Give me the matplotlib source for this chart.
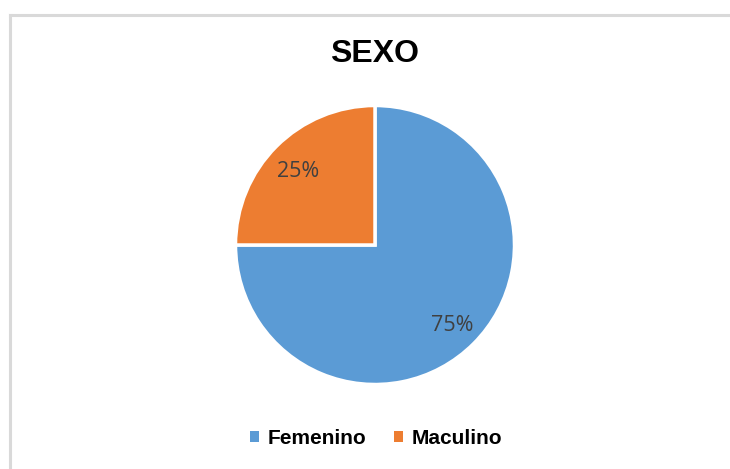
import matplotlib
matplotlib.use('Agg')
import matplotlib.pyplot as plt
from matplotlib.lines import Line2D
from matplotlib.patches import Patch

# Chart data:
labels = ['Femenino', 'Maculino']
values = [75, 25]
colors = ['#5B9BD5', '#ED7D31']

W, H = 730, 469
fig = plt.figure(figsize=(W / 100, H / 100), dpi=100)
fig.patch.set_facecolor('white')

# Light gray chart-area frame (top and left edges visible):
frame_color = '#D9D9D9'
fig.add_artist(Line2D([10 / W, 10 / W], [0, 1 - 15 / H], color=frame_color, linewidth=2.2, transform=fig.transFigure))
fig.add_artist(Line2D([10 / W, 1], [1 - 15 / H, 1 - 15 / H], color=frame_color, linewidth=2.2, transform=fig.transFigure))

# Pie axes centered at (375, 245) px with radius ~139 px:
cx, cy, r = 375, 245, 139.5
ax = fig.add_axes([(cx - r) / W, (H - cy - r) / H, 2 * r / W, 2 * r / H])
wedges, texts, autotexts = ax.pie(
    values, colors=colors, startangle=90, counterclock=False,
    autopct='%1.0f%%', pctdistance=0.78,
    wedgeprops=dict(edgecolor='white', linewidth=2.5),
    textprops=dict(color='#404040', fontsize=15.5, family=['Open Sans', 'DejaVu Sans']))
for t in autotexts:
    x, y = t.get_position()
    t.set_position((x, y - 0.025))
ax.set_xlim(-1, 1)
ax.set_ylim(-1, 1)
ax.set_aspect('equal')
ax.axis('off')

# Title:
fig.text(cx / W, 1 - 54 / H, 'SEXO', ha='center', va='center', fontsize=23,
         fontweight='bold', family='Liberation Sans', color='black')

# Legend:
handles = [Patch(facecolor=c, edgecolor='none') for c in colors]
legend = fig.legend(handles, labels, loc='center', bbox_to_anchor=(376 / W, 1 - 438.5 / H), ncol=2,
                    frameon=False, handlelength=0.45, handleheight=0.45, handletextpad=0.4,
                    columnspacing=1.3, prop=dict(family='Liberation Sans', weight='bold', size=15))

fig.savefig('out.png', dpi=100, facecolor='white')
plt.close(fig)
